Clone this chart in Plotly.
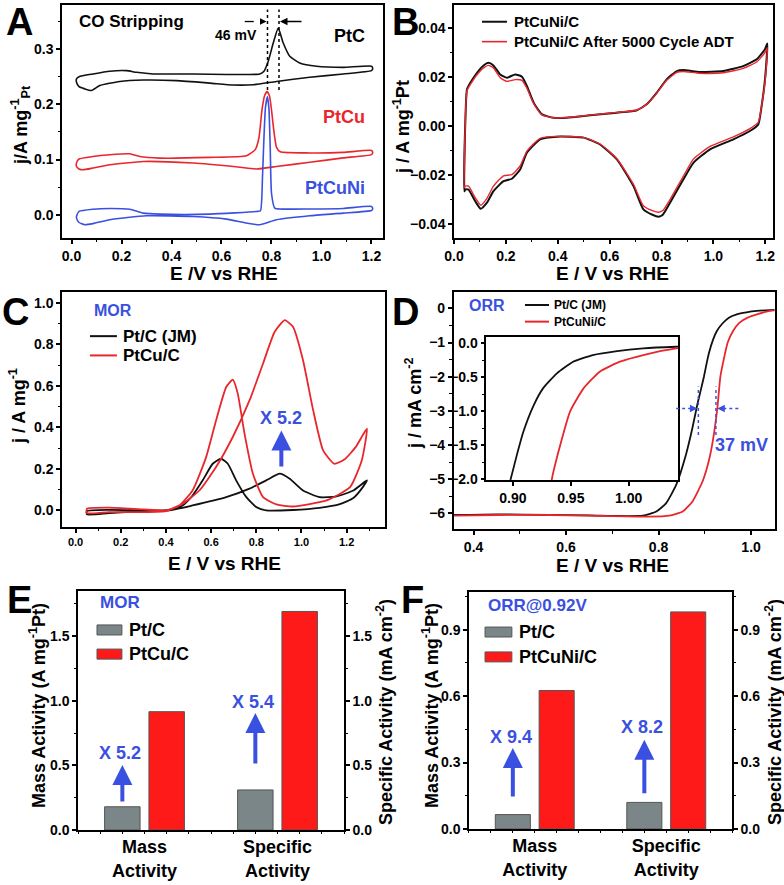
import plotly.graph_objects as go

# ---------------- data ----------------
# A: CO stripping, each loop = anodic branch then cathodic branch
a_ptc_x = [0.02, 0.03, 0.086, 0.153, 0.22, 0.26, 0.327, 0.487, 0.62, 0.753, 0.77, 0.787, 0.807, 0.827, 0.847, 0.873, 0.913, 0.98, 1.087, 1.2,
           1.205, 1.2, 1.087, 0.953, 0.82, 0.727, 0.647, 0.553, 0.42, 0.287, 0.193, 0.113, 0.08, 0.053, 0.03, 0.02, 0.02]
a_ptc_y = [0.246, 0.250, 0.255, 0.260, 0.261, 0.258, 0.255, 0.255, 0.254, 0.255, 0.260, 0.278, 0.311, 0.338, 0.311, 0.287, 0.275, 0.269, 0.267, 0.269,
           0.265, 0.261, 0.255, 0.249, 0.2415, 0.2355, 0.235, 0.2385, 0.243, 0.244, 0.2415, 0.234, 0.225, 0.228, 0.232, 0.240, 0.246]
a_ptcu_x = [0.02, 0.03, 0.086, 0.153, 0.233, 0.273, 0.353, 0.553, 0.70, 0.735, 0.75, 0.762, 0.772, 0.782, 0.792, 0.80, 0.81, 0.82, 0.835, 0.953, 1.087, 1.2,
            1.205, 1.2, 1.087, 0.953, 0.82, 0.74, 0.647, 0.487, 0.287, 0.153, 0.086, 0.046, 0.03, 0.02, 0.02]
a_ptcu_y = [0.094, 0.101, 0.1055, 0.1087, 0.1105, 0.1055, 0.1027, 0.104, 0.107, 0.118, 0.14, 0.19, 0.215, 0.223, 0.215, 0.19, 0.15, 0.122, 0.114, 0.112, 0.113, 0.1165,
            0.113, 0.109, 0.103, 0.095, 0.0875, 0.083, 0.0875, 0.0937, 0.0966, 0.0906, 0.0846, 0.0815, 0.083, 0.0875, 0.094]
a_ptcuni_x = [0.02, 0.03, 0.086, 0.153, 0.233, 0.287, 0.353, 0.553, 0.74, 0.756, 0.764, 0.769, 0.776, 0.784, 0.79, 0.795, 0.80, 0.813, 0.84, 0.953, 1.087, 1.2,
              1.205, 1.2, 1.087, 0.953, 0.82, 0.753, 0.70, 0.62, 0.487, 0.30, 0.153, 0.086, 0.053, 0.03, 0.02, 0.02]
a_ptcuni_y = [-0.003, 0.006, 0.010, 0.0115, 0.010, 0.003, 0.0012, 0.0012, 0.006, 0.0075, 0.069, 0.13, 0.195, 0.214, 0.19, 0.12, 0.039, 0.012, 0.0103, 0.0105, 0.0115, 0.015,
              0.011, 0.0078, 0.003, -0.0018, -0.009, -0.018, -0.015, -0.0078, -0.003, -0.0018, -0.009, -0.016, -0.018, -0.014, -0.006, -0.003]

# B: CV before / after ADT
b_fresh_x = [0.04, 0.0435, 0.05, 0.063, 0.0886, 0.114, 0.133, 0.152, 0.178, 0.204, 0.236, 0.262, 0.281, 0.307, 0.339, 0.384, 0.435, 0.525, 0.628, 0.705, 0.743, 0.782, 0.82, 0.859, 0.884, 0.948, 1.038, 1.115, 1.167, 1.199, 1.208,
             1.199, 1.186, 1.173, 1.141, 1.077, 0.987, 0.923, 0.884, 0.833, 0.805, 0.789, 0.765, 0.73, 0.692, 0.628, 0.563, 0.499, 0.397, 0.332, 0.281, 0.255, 0.223, 0.191, 0.152, 0.127, 0.103, 0.082, 0.056, 0.0435, 0.04]
b_fresh_y = [-0.0266, 0.0014, 0.015, 0.0177, 0.0218, 0.0248, 0.0259, 0.0248, 0.0211, 0.0198, 0.0211, 0.0202, 0.0164, 0.0096, 0.0048, 0.0034, 0.0034, 0.0044, 0.0055, 0.0065, 0.0089, 0.0137, 0.0191, 0.0225, 0.0229, 0.0221, 0.0225, 0.0245, 0.0273, 0.0314, 0.0338,
             0.019, 0.0082, 0.0007, -0.002, -0.0054, -0.0095, -0.015, -0.0218, -0.0313, -0.0362, -0.037, -0.0362, -0.034, -0.0245, -0.0136, -0.0075, -0.0047, -0.0043, -0.0054, -0.0109, -0.0177, -0.0215, -0.0225, -0.0266, -0.0313, -0.0338, -0.0307, -0.0259, -0.0259, -0.0266]
b_adt_x = b_fresh_x
b_adt_y = [-0.025, 0.001, 0.0145, 0.017, 0.021, 0.0238, 0.0248, 0.0238, 0.0198, 0.0183, 0.019, 0.0187, 0.0155, 0.0092, 0.0046, 0.0034, 0.0035, 0.0045, 0.0056, 0.0066, 0.0089, 0.0135, 0.0187, 0.022, 0.0223, 0.0216, 0.0218, 0.0236, 0.0262, 0.030, 0.032,
           0.018, 0.0085, 0.0015, -0.001, -0.0044, -0.0083, -0.0135, -0.0205, -0.030, -0.0345, -0.0352, -0.0345, -0.0325, -0.0238, -0.0133, -0.0073, -0.0046, -0.0042, -0.005, -0.0102, -0.0163, -0.0198, -0.0203, -0.0245, -0.0295, -0.0323, -0.0293, -0.0245, -0.0245, -0.025]

# C: MOR CVs
c_ptc_x = [0.05, 0.148, 0.296, 0.415, 0.518, 0.667, 0.77, 0.844, 0.904, 0.948, 1.007, 1.081, 1.156, 1.23, 1.29,
           1.27, 1.23, 1.17, 1.08, 0.963, 0.844, 0.8, 0.756, 0.711, 0.674, 0.644, 0.607, 0.563, 0.518, 0.474, 0.415, 0.296, 0.148, 0.05, 0.05]
c_ptc_y = [-0.003, 0.003, 0.0, 0.0, 0.024, 0.064, 0.105, 0.145, 0.177, 0.153, 0.096, 0.064, 0.0675, 0.096, 0.145,
           0.11, 0.06, 0.03, 0.012, 0.002, 0.0, 0.016, 0.064, 0.145, 0.225, 0.249, 0.225, 0.145, 0.072, 0.024, 0.003, -0.003, -0.013, -0.019, -0.003]
c_ptcu_x = [0.05, 0.148, 0.296, 0.40, 0.474, 0.548, 0.622, 0.696, 0.77, 0.83, 0.881, 0.926, 0.963, 1.007, 1.052, 1.096, 1.145, 1.19, 1.24, 1.29,
            1.267, 1.215, 1.111, 0.963, 0.889, 0.83, 0.785, 0.748, 0.718, 0.696, 0.667, 0.622, 0.578, 0.518, 0.459, 0.40, 0.296, 0.148, 0.05, 0.05]
c_ptcu_y = [0.008, 0.013, 0.005, 0.0, 0.032, 0.096, 0.209, 0.354, 0.53, 0.708, 0.86, 0.917, 0.884, 0.724, 0.482, 0.289, 0.225, 0.245, 0.305, 0.394,
            0.241, 0.112, 0.048, 0.019, 0.029, 0.064, 0.177, 0.37, 0.563, 0.63, 0.595, 0.434, 0.257, 0.096, 0.024, -0.003, -0.008, -0.008, -0.013, 0.008]

# D: ORR polarisation curves (also used for the inset)
d_ptc_x = [0.357, 0.45, 0.564, 0.65, 0.708, 0.766, 0.795, 0.816, 0.838, 0.859, 0.873, 0.884, 0.892, 0.898, 0.9034, 0.909, 0.918, 0.926, 0.938, 0.952, 0.969, 0.99, 1.0126, 1.041, 1.051]
d_ptc_y = [-6.05, -6.03, -6.05, -6.06, -6.08, -6.07, -5.95, -5.71, -5.17, -4.29, -3.51, -2.8, -2.35, -2.0, -1.64, -1.3, -0.907, -0.662, -0.441, -0.27, -0.172, -0.113, -0.074, -0.05, -0.045]
d_ptcuni_x = [0.357, 0.45, 0.564, 0.65, 0.78, 0.823, 0.852, 0.873, 0.895, 0.908, 0.917, 0.927, 0.9336, 0.9408, 0.9494, 0.961, 0.975, 0.9925, 1.0126, 1.041, 1.051]
d_ptcuni_y = [-6.07, -6.05, -6.05, -6.07, -6.1, -6.07, -5.95, -5.66, -5.07, -4.5, -3.9, -2.93, -2.0, -1.5, -1.0, -0.662, -0.417, -0.27, -0.172, -0.074, -0.06]

# E / F: activities  (mass activity -> left axis, specific activity -> right axis)
groups = ["Mass<br>Activity", "Specific<br>Activity"]
e_ptc = [0.18, 0.31]
e_ptcu = [0.915, 1.69]
e_fold = ["X 5.2", "X 5.4"]
f_ptc = [0.065, 0.12]
f_ptcuni = [0.625, 0.98]
f_fold = ["X 9.4", "X 8.2"]

# ---------------- style ----------------
FONT = "Liberation Sans"
BLACK = "#111111"
RED = "#e8262c"
BLUE = "#3a50e0"
BAR_GRAY = "#7b8688"
BAR_RED = "#ff1a1a"


def tfont(size, color="black"):
    return dict(family=FONT, size=size, color=color, weight="bold")


def axis(domain, rng, anchor, dtick=None, minor=None, fmt=None, size=13, **kw):
    d = dict(domain=domain, range=rng, anchor=anchor, showline=True, linecolor="black",
             linewidth=1.5, mirror=True, ticks="outside", ticklen=4, tickwidth=1.5,
             tickcolor="black", showgrid=False, zeroline=False, tickfont=tfont(size),
             automargin=False)
    if dtick is not None:
        d.update(dtick=dtick, tick0=0)
    if minor is not None:
        d["minor"] = dict(ticks="outside", ticklen=2.5, tickwidth=1, tickcolor="black",
                          dtick=minor, tick0=0, showgrid=False)
    if fmt:
        d["tickformat"] = fmt
    d.update(kw)
    return d


def line(x, y, color, xa, ya, width=1.6):
    return go.Scatter(x=x, y=y, mode="lines", xaxis=xa, yaxis=ya, showlegend=False,
                      hoverinfo="skip",
                      line=dict(color=color, width=width, shape="spline", smoothing=0.5))


fig = go.Figure()

# A
fig.add_trace(line(a_ptc_x, a_ptc_y, BLACK, "x", "y"))
fig.add_trace(line(a_ptcu_x, a_ptcu_y, RED, "x", "y"))
fig.add_trace(line(a_ptcuni_x, a_ptcuni_y, BLUE, "x", "y"))
# B
fig.add_trace(line(b_fresh_x, b_fresh_y, BLACK, "x2", "y2", 2))
fig.add_trace(line(b_adt_x, b_adt_y, RED, "x2", "y2", 1.4))
# C
fig.add_trace(line(c_ptc_x, c_ptc_y, BLACK, "x3", "y3", 1.8))
fig.add_trace(line(c_ptcu_x, c_ptcu_y, RED, "x3", "y3", 1.8))
# D + inset
fig.add_trace(line(d_ptc_x, d_ptc_y, BLACK, "x4", "y4", 1.8))
fig.add_trace(line(d_ptcuni_x, d_ptcuni_y, RED, "x4", "y4", 1.8))
fig.add_trace(line(d_ptc_x, d_ptc_y, BLACK, "x5", "y5", 1.8))
fig.add_trace(line(d_ptcuni_x, d_ptcuni_y, RED, "x5", "y5", 1.8))

# E / F bars: per group, gray at 1+3i, coloured at 2+3i; group 0 on left axis, group 1 on right axis
bar_line = dict(color="#555555", width=1)
for xa, yas, ref_vals, new_vals in [("x6", ("y6", "y7"), e_ptc, e_ptcu),
                                     ("x8", ("y8", "y9"), f_ptc, f_ptcuni)]:
    for i in range(len(groups)):
        fig.add_trace(go.Bar(x=[1 + 3 * i], y=[ref_vals[i]], width=0.8, xaxis=xa, yaxis=yas[i],
                             showlegend=False, hoverinfo="skip",
                             marker=dict(color=BAR_GRAY, line=bar_line)))
        fig.add_trace(go.Bar(x=[2 + 3 * i], y=[new_vals[i]], width=0.8, xaxis=xa, yaxis=yas[i],
                             showlegend=False, hoverinfo="skip",
                             marker=dict(color=BAR_RED, line=bar_line)))

cat_pos = [1.5 + 3 * i for i in range(len(groups))]
e_rng = [0, 1.848]
f_rng = [0, 1.07]

fig.update_layout(
    template="none",
    width=784, height=885, autosize=False,
    margin=dict(l=0, r=0, t=0, b=0),
    paper_bgcolor="white", plot_bgcolor="white",
    font=dict(family=FONT, color="black"),
    barmode="overlay",
    xaxis=axis([0.0791, 0.4885], [-0.038, 1.246], "y", 0.2, 0.1, ".1f", 14),
    yaxis=axis([0.7311, 0.9944], [-0.042, 0.38], "x", 0.1, 0.05, ".1f", 14),
    xaxis2=axis([0.5791, 0.986], [0.0, 1.23], "y2", 0.2, 0.1, ".1f", 14),
    yaxis2=axis([0.7311, 0.9944], [-0.0457, 0.0495], "x2", 0.02, 0.01, ".2f", 14),
    xaxis3=axis([0.0791, 0.4911], [-0.06, 1.37], "y3", 0.2, 0.1, ".1f", 11),
    yaxis3=axis([0.4045, 0.6701], [-0.08, 1.053], "x3", 0.2, 0.1, ".1f", 14),
    xaxis4=axis([0.5787, 0.9881], [0.357, 1.051], "y4", 0.2, 0.1, ".1f", 14),
    yaxis4=axis([0.4019, 0.6704], [-6.47, 0.49], "x4", 1, 0.5, "d", 14),
    xaxis5=axis([0.6203, 0.8648], [0.877, 1.0426], "y5", 0.05, None, ".2f", 14),
    yaxis5=axis([0.4576, 0.6195], [-2.01, 0.097], "x5", 0.5, 0.25, ".1f", 14),
    xaxis6=axis([0.0995, 0.4388], [0, 6], "y6", None, 0.5, None, 18,
                tickmode="array", tickvals=cat_pos, ticktext=groups, ticklen=0),
    yaxis6=axis([0.0621, 0.3322], e_rng, "x6", 0.5, 0.25, ".1f", 14, mirror=False),
    yaxis7=axis([0.0621, 0.3322], e_rng, "x6", 0.5, 0.25, ".1f", 14, mirror=False,
                overlaying="y6", side="right"),
    xaxis8=axis([0.5982, 0.9337], [0, 6], "y8", None, 0.5, None, 18,
                tickmode="array", tickvals=cat_pos, ticktext=groups, ticklen=0),
    yaxis8=axis([0.0633, 0.3311], f_rng, "x8", 0.3, 0.15, ".1f", 14, mirror=False),
    yaxis9=axis([0.0633, 0.3311], f_rng, "x8", 0.3, 0.15, ".1f", 14, mirror=False,
                overlaying="y8", side="right"),
)

ann = []
shapes = []


def text(x, y, s, size, color="black", xref="paper", yref="paper", xanchor="center",
         yanchor="middle", angle=0):
    ann.append(dict(x=x, y=y, text=s, xref=xref, yref=yref, xanchor=xanchor, yanchor=yanchor,
                    showarrow=False, textangle=angle, font=tfont(size, color)))


def px(xp, yp):
    return xp / 784, 1 - yp / 885


# panel letters
for letter, (xp, yp) in zip("ABCDEF", [(19, 22), (405, 22), (16, 312), (405, 312), (19, 600), (412, 600)]):
    x, y = px(xp, yp)
    text(x, y, letter, 38)

# axis titles
for s, (xp, yp), ang, size in [
    ("j/A mg<sup>-1</sup><sub>Pt</sub>", (20, 125), -90, 18),
    ("E /V vs RHE", (224, 273), 0, 19),
    ("j / A mg<sup>-1</sup>Pt", (401, 127), -90, 18),
    ("E / V vs RHE", (612, 273), 0, 19),
    ("j / A mg<sup>-1</sup>", (18, 406), -90, 18),
    ("E / V vs RHE", (224, 563), 0, 19),
    ("j / mA cm<sup>-2</sup>", (413, 403), -90, 18),
    ("E / V vs RHE", (612, 565), 0, 19),
    ("Mass Activity (A mg<sup>-1</sup>Pt)", (37, 706), -90, 18),
    ("Specific Activity (mA cm<sup>-2</sup>)", (384, 712), -90, 18),
    ("Mass Activity (A mg<sup>-1</sup>Pt)", (430, 706), -90, 18),
    ("Specific Activity (mA cm<sup>-2</sup>)", (773, 712), -90, 18),
]:
    x, y = px(xp, yp)
    text(x, y, s, size, angle=ang)

# ---- A annotations
text(0.02, 0.35, "CO Stripping", 17, xref="x", yref="y", xanchor="left")
text(0.66, 0.326, "46 mV", 14, xref="x", yref="y")
text(1.113, 0.323, "PtC", 18, xref="x", yref="y")
text(1.09, 0.177, "PtCu", 18, RED, xref="x", yref="y")
text(1.054, 0.049, "PtCuNi", 18, BLUE, xref="x", yref="y")
for xv in (0.784, 0.83):
    shapes.append(dict(type="line", xref="x", yref="y", x0=xv, x1=xv, y0=0.226, y1=0.372,
                       line=dict(color="black", width=1.5, dash="dot")))
shapes.append(dict(type="line", xref="x", yref="y", x0=0.693, x1=0.76, y0=0.35, y1=0.35,
                   line=dict(color="black", width=1.3, dash="dash")))
ann.append(dict(x=0.78, y=0.35, ax=0.755, ay=0.35, xref="x", yref="y", axref="x", ayref="y",
                text="", showarrow=True, arrowhead=2, arrowsize=1, arrowwidth=1.3, arrowcolor="black"))
ann.append(dict(x=0.834, y=0.35, ax=0.926, ay=0.35, xref="x", yref="y", axref="x", ayref="y",
                text="", showarrow=True, arrowhead=2, arrowsize=1, arrowwidth=1.5, arrowcolor="black"))

# ---- B legend
for yd, col, w, lab in [(0.928, BLACK, 2, "PtCuNi/C"), (0.8425, RED, 1.6, "PtCuNi/C After 5000 Cycle ADT")]:
    shapes.append(dict(type="line", xref="x2 domain", yref="y2 domain", x0=0.0878, x1=0.166,
                       y0=yd, y1=yd, line=dict(color=col, width=w)))
    text(0.182, yd, lab, 15, xref="x2 domain", yref="y2 domain", xanchor="left")

# ---- C legend + annotation
text(0.093, 0.92, "MOR", 16, BLUE, xref="x3 domain", yref="y3 domain", xanchor="left")
for yd, col, lab in [(0.812, BLACK, "Pt/C (JM)"), (0.73, RED, "PtCu/C")]:
    shapes.append(dict(type="line", xref="x3 domain", yref="y3 domain", x0=0.0867, x1=0.170,
                       y0=yd, y1=yd, line=dict(color=col, width=2)))
    text(0.182, yd, lab, 17, xref="x3 domain", yref="y3 domain", xanchor="left")
text(0.911, 0.445, "X 5.2", 18, BLUE, xref="x3", yref="y3")
ann.append(dict(x=0.911, y=0.385, ax=0.911, ay=0.205, xref="x3", yref="y3", axref="x3", ayref="y3",
                text="", showarrow=True, arrowhead=2, arrowsize=1, arrowwidth=4, arrowcolor=BLUE))

# ---- D legend + annotations
text(0.0414, 0.944, "ORR", 16, BLUE, xref="x4 domain", yref="y4 domain", xanchor="left")
for yd, col, lab in [(0.944, BLACK, "Pt/C (JM)"), (0.874, RED, "PtCuNi/C")]:
    shapes.append(dict(type="line", xref="x4 domain", yref="y4 domain", x0=0.222, x1=0.297,
                       y0=yd, y1=yd, line=dict(color=col, width=2)))
    text(0.306, yd, lab, 12, xref="x4 domain", yref="y4 domain", xanchor="left")
for xv in (0.886, 0.924):
    shapes.append(dict(type="line", xref="x4", yref="y4", x0=xv, x1=xv, y0=-3.71, y1=-2.29,
                       line=dict(color=BLUE, width=1.5, dash="dot")))
shapes.append(dict(type="line", xref="x4", yref="y4", x0=0.838, x1=0.874, y0=-2.93, y1=-2.93,
                   line=dict(color=BLUE, width=1.5, dash="dot")))
shapes.append(dict(type="line", xref="x4", yref="y4", x0=0.94, x1=0.978, y0=-2.93, y1=-2.93,
                   line=dict(color=BLUE, width=1.5, dash="dot")))
ann.append(dict(x=0.884, y=-2.93, ax=0.872, ay=-2.93, xref="x4", yref="y4", axref="x4", ayref="y4",
                text="", showarrow=True, arrowhead=2, arrowsize=1, arrowwidth=1.5, arrowcolor=BLUE))
ann.append(dict(x=0.927, y=-2.93, ax=0.942, ay=-2.93, xref="x4", yref="y4", axref="x4", ayref="y4",
                text="", showarrow=True, arrowhead=2, arrowsize=1, arrowwidth=1.5, arrowcolor=BLUE))
text(0.98, -4.0, "37 mV", 18, BLUE, xref="x4", yref="y4")

# ---- E / F legends + fold annotations
for xa, ya, title, lab2, g_y, r_y, arr, fold in [
    ("x6", "y6", "MOR", "PtCu/C", (0.816, 0.858), (0.715, 0.757),
     [(1, 0.209, 0.503, 0.595), (4, 0.503, 0.905, 0.99)], e_fold),
    ("x8", "y8", "ORR@0.92V", "PtCuNi/C", (0.810, 0.852), (0.705, 0.747),
     [(1, 0.14, 0.366, 0.416), (4, 0.154, 0.4025, 0.461)], f_fold),
]:
    xd, yd = xa + " domain", ya + " domain"
    lx0, lx1, tx, ty = (0.0714, 0.165, 0.184, 0.951) if xa == "x6" else (0.061, 0.163, 0.1825, 0.945)
    text(lx0 + 0.004, ty, title, 17, BLUE, xref=xd, yref=yd, xanchor="left")
    shapes.append(dict(type="rect", xref=xd, yref=yd, x0=lx0, x1=lx1, y0=g_y[0], y1=g_y[1],
                       fillcolor=BAR_GRAY, line=dict(color="#555555", width=1)))
    shapes.append(dict(type="rect", xref=xd, yref=yd, x0=lx0, x1=lx1, y0=r_y[0], y1=r_y[1],
                       fillcolor=BAR_RED, line=dict(color="#555555", width=1)))
    text(tx, sum(g_y) / 2, "Pt/C", 18, xref=xd, yref=yd, xanchor="left")
    text(tx, sum(r_y) / 2, lab2, 18, xref=xd, yref=yd, xanchor="left")
    for (xp, y0, y1, yt), lab in zip(arr, fold):
        ann.append(dict(x=xp, y=y1, ax=xp, ay=y0, xref=xa, yref=ya, axref=xa, ayref=ya, text="",
                        showarrow=True, arrowhead=2, arrowsize=1, arrowwidth=4, arrowcolor=BLUE))
        text(xp - 0.05, yt, lab, 18, BLUE, xref=xa, yref=ya)

fig.update_layout(annotations=ann, shapes=shapes)
# page has a default 8px body margin; drop it so the figure fills the window exactly
fig.write_html("out.html", config={"displayModeBar": False},
               post_script="document.body.style.margin='0';document.body.style.overflow='hidden';")
